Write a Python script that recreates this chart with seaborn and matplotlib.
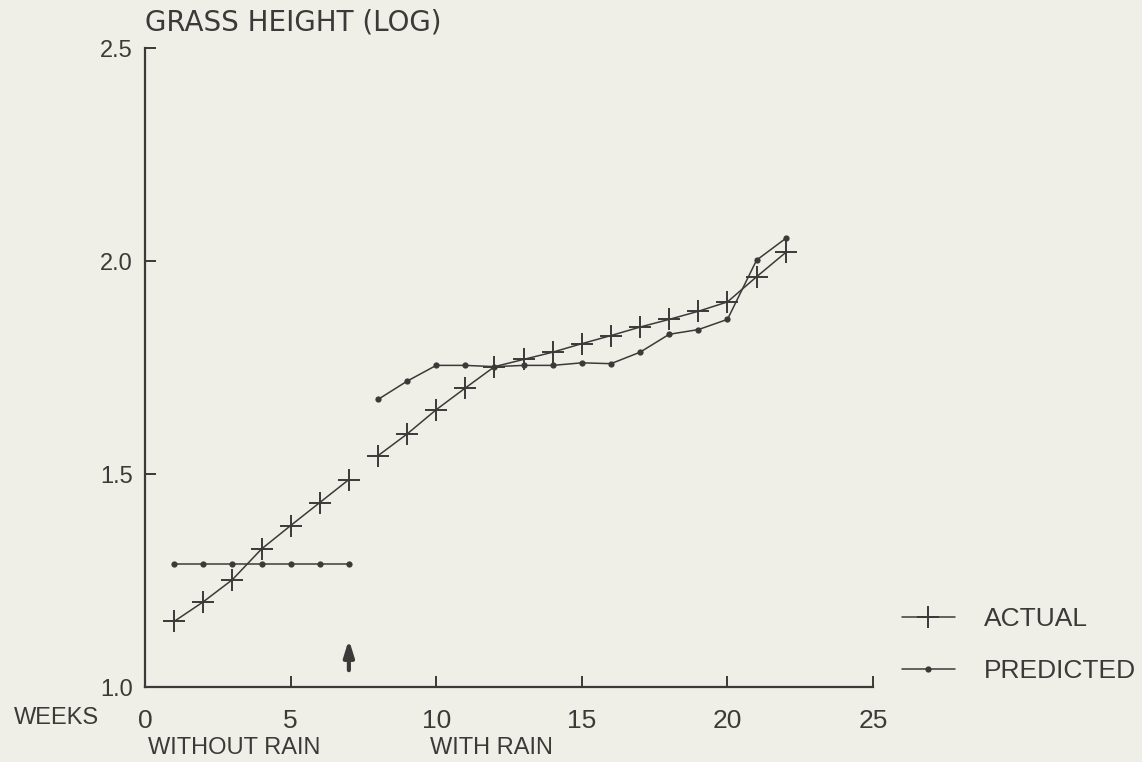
import numpy as np
import pandas as pd
import seaborn as sns
import matplotlib.pyplot as plt
from matplotlib.lines import Line2D
from matplotlib.transforms import blended_transform_factory

# weeks without rain (1-7) and with rain (8-22)
weeks_dry = [1, 2, 3, 4, 5, 6, 7]
weeks_wet = [8, 9, 10, 11, 12, 13, 14, 15, 16, 17, 18, 19, 20, 21, 22]

actual_dry = [1.154, 1.200, 1.252, 1.324, 1.379, 1.433, 1.487]
predicted_dry = [1.289, 1.289, 1.289, 1.289, 1.289, 1.289, 1.289]

actual_wet = [1.543, 1.594, 1.651, 1.702, 1.752, 1.769, 1.786, 1.806,
              1.825, 1.845, 1.863, 1.882, 1.904, 1.963, 2.020]
predicted_wet = [1.675, 1.718, 1.755, 1.755, 1.752, 1.755, 1.755, 1.761,
                 1.759, 1.786, 1.828, 1.839, 1.863, 2.002, 2.053]

x_ticks = [0, 5, 10, 15, 20, 25]
y_ticks = [1.0, 1.5, 2.0, 2.5]
y_tick_labels = ['1.0', '1.5', '2.0', '2.5']

rain_starts = 7  # arrow marks the start of the rains
arrow_bottom, arrow_top = 1.033, 1.118

ink = '#3a3a38'
paper = '#efefe8'

df = pd.concat([
    pd.DataFrame({'week': weeks_dry, 'height': actual_dry, 'series': 'ACTUAL', 'period': 'dry'}),
    pd.DataFrame({'week': weeks_wet, 'height': actual_wet, 'series': 'ACTUAL', 'period': 'wet'}),
    pd.DataFrame({'week': weeks_dry, 'height': predicted_dry, 'series': 'PREDICTED', 'period': 'dry'}),
    pd.DataFrame({'week': weeks_wet, 'height': predicted_wet, 'series': 'PREDICTED', 'period': 'wet'}),
])

sns.set_theme(style='ticks')
plt.rcParams['font.family'] = ['Liberation Sans', 'DejaVu Sans']
plt.rcParams['text.color'] = ink

fig = plt.figure(figsize=(11.42, 7.62), dpi=100, facecolor=paper)
ax = fig.add_axes([0.127, 0.0984, 0.6375, 0.8386])
ax.set_facecolor(paper)

marker_style = {
    'ACTUAL': dict(marker='+', markersize=16, markeredgewidth=1.4, markeredgecolor=ink),
    'PREDICTED': dict(marker='o', markersize=4.5, markeredgewidth=0, markerfacecolor=ink),
}

for (series, period), part in df.groupby(['series', 'period']):
    sns.lineplot(data=part, x='week', y='height', ax=ax, color=ink,
                 lw=1.1, legend=False, estimator=None, **marker_style[series])

ax.annotate('', xy=(rain_starts, arrow_top), xytext=(rain_starts, arrow_bottom),
            arrowprops=dict(arrowstyle='-|>,head_length=0.8,head_width=0.25',
                            color=ink, lw=3))

ax.set_xlim(0, 25)
ax.set_ylim(1.0, 2.5)
ax.set_xticks(x_ticks)
ax.set_yticks(y_ticks)
ax.set_yticklabels(y_tick_labels)
ax.set_xlabel('')
ax.set_ylabel('')

sns.despine(ax=ax)
for side in ['left', 'bottom']:
    ax.spines[side].set_color(ink)
    ax.spines[side].set_linewidth(1.6)

ax.tick_params(axis='both', direction='in', length=8, width=1.4, color=ink, labelcolor=ink)
ax.tick_params(axis='y', pad=9, labelsize=17)
ax.tick_params(axis='x', pad=16, labelsize=19)

fig.text(0.127, 1 - 23 / 762, 'GRASS HEIGHT (LOG)', fontsize=20, va='center', ha='left',
         family=['DejaVu Sans'])
fig.text(0.012, 1 - 718 / 762, 'WEEKS', fontsize=17, va='center', ha='left')

trans = blended_transform_factory(ax.transData, fig.transFigure)
ax.text(0.1, 1 - 748 / 762, 'WITHOUT RAIN', transform=trans, fontsize=17,
        va='center', ha='left')
ax.text(9.8, 1 - 748 / 762, 'WITH RAIN', transform=trans, fontsize=17,
        va='center', ha='left')

handles = [
    Line2D([], [], color=ink, lw=1.1, **marker_style['ACTUAL']),
    Line2D([], [], color=ink, lw=1.1, **marker_style['PREDICTED']),
]
fig.legend(handles, ['ACTUAL', 'PREDICTED'], loc='center left',
           bbox_to_anchor=(878 / 1142, 1 - 645 / 762), frameon=False,
           fontsize=19, handlelength=2.0, handletextpad=1.1, labelspacing=1.05,
           labelcolor=ink)

plt.savefig('out.png', dpi=100, facecolor=paper)
